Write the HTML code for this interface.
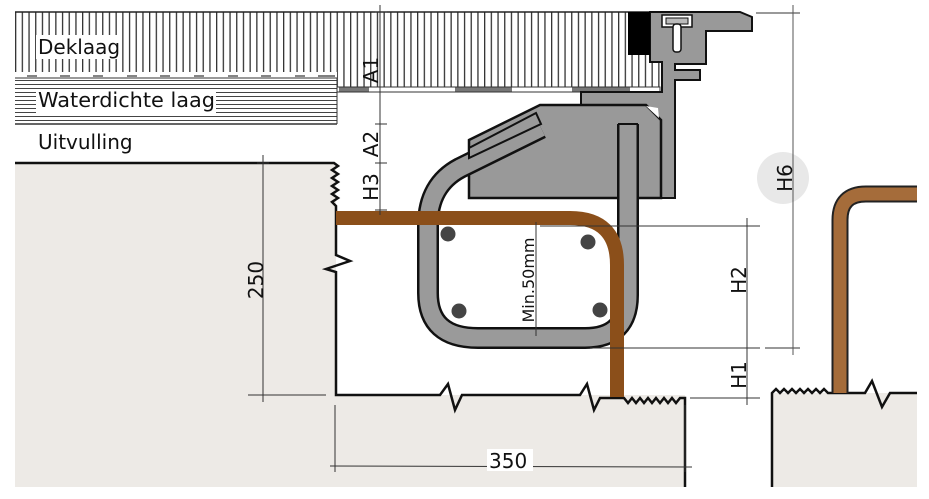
<!DOCTYPE html>
<html><head><meta charset="utf-8"><style>
html,body{margin:0;padding:0;background:#fff;}
svg{display:block;}
text{font-family:"DejaVu Sans","Liberation Sans",sans-serif;fill:#111;}
</style></head><body>
<svg width="929" height="499" viewBox="0 0 929 499" xmlns="http://www.w3.org/2000/svg">
<defs>
<pattern id="vs" x="15" y="0" width="6.7" height="10" patternUnits="userSpaceOnUse">
<rect width="6.7" height="10" fill="#fff"/><rect x="0" width="1.3" height="10" fill="#333"/></pattern>
<pattern id="hs" x="0" y="80" width="10" height="4" patternUnits="userSpaceOnUse">
<rect width="10" height="4" fill="#fff"/><rect y="0" width="10" height="1" fill="#444"/></pattern>
</defs>
<path d="M15 163 L336 163 L336 395 L610 395 L685 395 L685 487 L15 487 Z" fill="#edeae6"/>
<rect x="772" y="393" width="145" height="94" fill="#edeae6"/>
<rect x="15" y="12" width="645" height="66" fill="url(#vs)"/>
<rect x="337" y="78" width="323" height="10" fill="url(#vs)"/>
<line x1="15" y1="12" x2="660" y2="12" stroke="#222" stroke-width="1.5"/>
<rect x="337" y="87" width="323" height="5" fill="#fff" stroke="#333" stroke-width="1"/>
<rect x="339" y="87.5" width="30" height="4" fill="#777"/>
<rect x="455" y="87.5" width="57" height="4" fill="#777"/>
<rect x="572" y="87.5" width="58" height="4" fill="#777"/>
<rect x="15" y="72" width="322" height="6" fill="#fff"/>
<g stroke="#333" stroke-width="1.2">
<line x1="27" y1="76" x2="37" y2="76"/><line x1="60" y1="76" x2="70" y2="76"/><line x1="93" y1="76" x2="103" y2="76"/><line x1="127" y1="76" x2="137" y2="76"/><line x1="160" y1="76" x2="170" y2="76"/><line x1="194" y1="76" x2="204" y2="76"/><line x1="228" y1="76" x2="238" y2="76"/><line x1="261" y1="76" x2="271" y2="76"/><line x1="295" y1="76" x2="305" y2="76"/><line x1="318" y1="76" x2="335" y2="76"/></g>
<rect x="15" y="78" width="322" height="46" fill="url(#hs)"/>
<line x1="15" y1="78" x2="337" y2="78" stroke="#333"/>
<line x1="15" y1="124" x2="337" y2="124" stroke="#333" stroke-width="1.5"/>
<line x1="337" y1="78" x2="337" y2="124" stroke="#333"/>
<rect x="36" y="89" width="180" height="24" fill="#fff"/>
<rect x="36" y="35" width="84" height="24" fill="#fff"/>
<text x="38" y="54" font-size="20">Deklaag</text>
<text x="38" y="107" font-size="20" textLength="177" lengthAdjust="spacingAndGlyphs">Waterdichte laag</text>
<text x="38" y="149" font-size="20">Uitvulling</text>
<path d="M15 163 L334 163 L338 166 L332 170 L338 174 L332 178 L338 182 L332 186 L338 190 L332 194 L338 198 L332 202 L336 206 L336 255 L350 261 L326 269 L336 272 L336 395 L440 395 L448 384 L455 410 L462 395 L580 395 L587 384 L594 410 L600 398 L624 398 L628 403 L632 398 L636 403 L640 398 L644 403 L648 398 L652 403 L656 398 L660 403 L664 398 L668 403 L672 398 L676 403 L680 398 L685 398 L685 487" fill="none" stroke="#111" stroke-width="2.5"/>
<path d="M772 487 L772 393 L776 389 L780 393 L784 389 L788 393 L792 389 L796 393 L800 389 L804 393 L808 389 L812 393 L816 389 L820 393 L824 389 L828 393 L865 393 L872 381 L882 407 L890 393 L917 393" fill="none" stroke="#111" stroke-width="2.5"/>
<path d="M840 393 L840 220 Q840 194 866 194 L917 194" fill="none" stroke="#222" stroke-width="17"/>
<path d="M840 393 L840 220 Q840 194 866 194 L917 194" fill="none" stroke="#a56c3a" stroke-width="13"/>
<path d="M650 12 L740 12 L752 17 L752 31 L706 31 L706 64 L675 64 L675 70 L700 70 L700 80 L675 80 L675 198 L661 198 L661 120 L646 105 L581 105 L581 92 L662 92 L662 62 L650 62 Z" fill="#999" stroke="#111" stroke-width="2"/>
<path d="M469 140 L540 105 L646 105 L661 120 L661 198 L469 198 Z" fill="#999" stroke="#111" stroke-width="2.5"/>
<path d="M646 106 L659 118 L658 108 Z" fill="#fff"/>
<rect x="628" y="12" width="22" height="43" fill="#000"/>
<rect x="662" y="15" width="30" height="12" fill="#fff" stroke="#111" stroke-width="1.5"/>
<rect x="666" y="18" width="22" height="6" fill="#bbb" stroke="#111"/>
<rect x="673" y="24" width="8" height="28" rx="3" fill="#fff" stroke="#111" stroke-width="1.5"/>
<path d="M541 128 L460 168 Q428 185 428 225 L428 293 Q428 338 478 338 L585 338 Q628 338 628 295 L628 124" fill="none" stroke="#111" stroke-width="22"/>
<path d="M541 128 L460 168 Q428 185 428 225 L428 293 Q428 338 478 338 L585 338 Q628 338 628 295 L628 124" fill="none" stroke="#9a9a9a" stroke-width="17"/>
<path d="M618 124 L638 124" stroke="#111" stroke-width="2"/>
<path d="M469 148 L469 158 L541 124 L536 113 Z" fill="#9a9a9a" stroke="#111" stroke-width="2"/>
<path d="M336 218 L570 218 Q617 218 617 265 L617 397" fill="none" stroke="#8b4f1a" stroke-width="14"/>
<g fill="#444"><circle cx="448" cy="234" r="7.5"/><circle cx="588" cy="242" r="7.5"/><circle cx="459" cy="311" r="7.5"/><circle cx="600" cy="310" r="7.5"/></g>
<g stroke="#333" stroke-width="1" fill="none">
<line x1="380" y1="5" x2="380" y2="215"/>
<line x1="375" y1="124" x2="387" y2="124"/><line x1="375" y1="163" x2="387" y2="163"/><line x1="375" y1="210" x2="387" y2="210"/><line x1="375" y1="12" x2="387" y2="12"/>
<line x1="263" y1="155" x2="263" y2="402"/><line x1="248" y1="395" x2="326" y2="395"/>
<line x1="257" y1="163" x2="269" y2="163"/><line x1="257" y1="395" x2="269" y2="395"/>
<line x1="335" y1="405" x2="335" y2="472"/><line x1="685" y1="405" x2="685" y2="472"/>
<line x1="330" y1="466" x2="692" y2="467"/>
<line x1="536" y1="222" x2="536" y2="336"/>
<line x1="540" y1="226" x2="760" y2="226"/><line x1="590" y1="348" x2="760" y2="348"/><line x1="690" y1="398" x2="760" y2="398"/>
<line x1="747" y1="218" x2="747" y2="405"/>
<line x1="756" y1="13" x2="800" y2="13"/><line x1="765" y1="348" x2="800" y2="348"/>
</g>
<circle cx="783" cy="178" r="26" fill="#e8e8e8"/>
<line x1="793" y1="5" x2="793" y2="355" stroke="#555" stroke-width="1"/>
<rect x="487" y="449" width="46" height="22" fill="#fff"/>
<text x="489" y="468" font-size="20">350</text>
<g font-size="20">
<text transform="translate(263,280) rotate(-90)" text-anchor="middle">250</text>
<text transform="translate(378,70) rotate(-90)" text-anchor="middle">A1</text>
<text transform="translate(378,144) rotate(-90)" text-anchor="middle">A2</text>
<text transform="translate(378,187) rotate(-90)" text-anchor="middle">H3</text>
<text transform="translate(746,280) rotate(-90)" text-anchor="middle">H2</text>
<text transform="translate(746,375) rotate(-90)" text-anchor="middle">H1</text>
<text transform="translate(792,178) rotate(-90)" text-anchor="middle">H6</text>
</g>
<text transform="translate(534,280) rotate(-90)" text-anchor="middle" font-size="16">Min.50mm</text>
</svg>
</body></html>
